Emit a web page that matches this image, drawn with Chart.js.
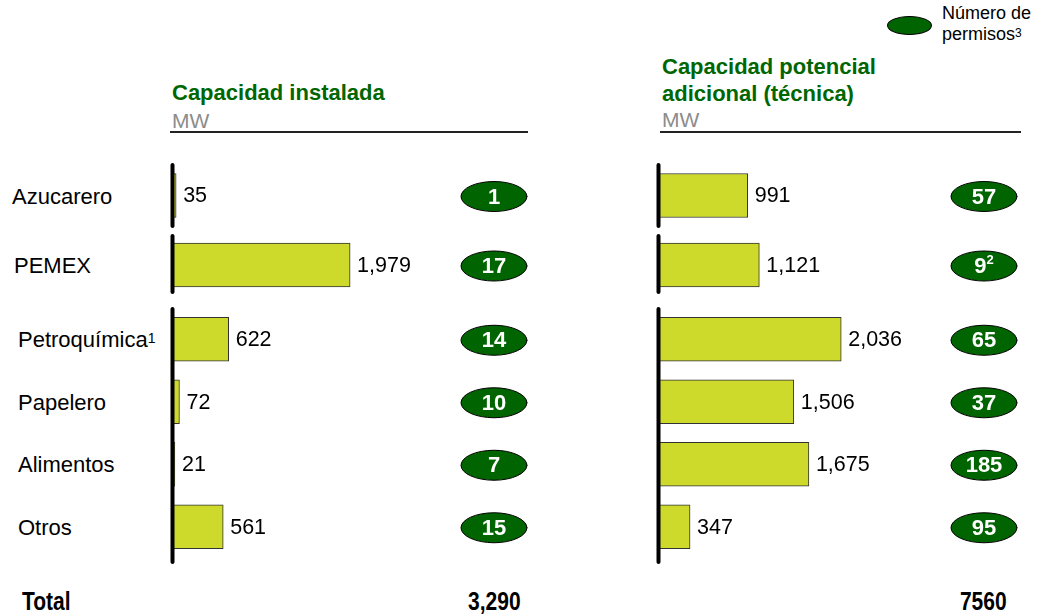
<!DOCTYPE html>
<html>
<head>
<meta charset="utf-8">
<script src="https://cdn.jsdelivr.net/npm/chart.js@4.4.0/dist/chart.umd.min.js"></script>
<style>
  body{margin:0;width:1038px;height:614px;position:relative;overflow:hidden;background:#fff;
       font-family:"Liberation Sans",Arial,Helvetica,sans-serif;color:#000}
  .abs{position:absolute;white-space:nowrap}
  .head{font-weight:bold;font-size:22px;line-height:26px;color:#006600}
  .unit{font-size:21px;line-height:24px;color:#8c8c8c}
  .rule{height:2px;background:#222}
  .cat{font-size:22px;line-height:26px}
  .cat sup{font-size:14px;vertical-align:top;position:relative;top:-2px}
  .tot{font-weight:bold;font-size:25px;line-height:28px;transform:scaleX(0.84)}
  .leg{font-size:18px;line-height:21px}
  .leg sup{font-size:12px;vertical-align:top;position:relative;top:-1px}
  .dot{box-sizing:border-box;border:1px solid #000;border-radius:50%;background:#006400}
</style>
</head>
<body>
<div class="abs head" style="left:172px;top:80px">Capacidad instalada</div>
<div class="abs unit" style="left:172px;top:109px">MW</div>
<div class="abs rule" style="left:170px;top:131px;width:358px"></div>

<div class="abs head" style="left:662px;top:53px;line-height:27px">Capacidad potencial<br>adicional (técnica)</div>
<div class="abs unit" style="left:662px;top:108px">MW</div>
<div class="abs rule" style="left:660px;top:131px;width:361px"></div>

<div class="abs dot" style="left:887px;top:16px;width:45px;height:19px"></div>
<div class="abs leg" style="left:942px;top:3px">Número de<br>permisos<sup>3</sup></div>

<div class="abs tot" style="left:22px;top:587px;transform-origin:left center">Total</div>
<div class="abs tot" id="tot0" style="right:517px;top:587px;transform-origin:right center"></div>
<div class="abs tot" id="tot1" style="right:31px;top:587px;transform-origin:right center"></div>

<script>
// data
const categories = ['Azucarero', 'PEMEX', 'Petroquímica', 'Papelero', 'Alimentos', 'Otros'];
const categoryNotes = ['', '', '1', '', '', ''];
const installedMW = [35, 1979, 622, 72, 21, 561];
const potentialMW = [991, 1121, 2036, 1506, 1675, 347];
const installedPermits = [1, 17, 14, 10, 7, 15];
const potentialPermits = [57, 9, 65, 37, 185, 95];
const potentialPermitNotes = ['', '2', '', '', '', ''];
const totalLabels = ['3,290', '7560'];
// rows sharing one axis segment
const rowGroups = [[0], [1], [2, 3, 4, 5]];

const PX_PER_MW = 0.0895;
const BAR_FILL = '#cdda2c';
const DARK_GREEN = '#006400';

// layout of each group block (pixels)
const groupBoxes = [
  {top: 163, h: 65, pt: 0, pb: 0, labelX: 12},
  {top: 234, h: 60, pt: 2, pb: 0, labelX: 14},
  {top: 307, h: 257, pt: 1, pb: 6, labelX: 18}
];
const panels = [
  {values: installedMW, permits: installedPermits, notes: null, left: 160, width: 372, ellipseX: 334},
  {values: potentialMW, permits: potentialPermits, notes: potentialPermitNotes, left: 646, width: 384, ellipseX: 338}
];

const rowDecor = {
  id: 'rowDecor',
  afterDatasetsDraw(chart, args, opts){
    const ctx = chart.ctx;
    const area = chart.chartArea;
    const meta = chart.getDatasetMeta(0);
    const ds = chart.data.datasets[0].data;
    ctx.save();
    // axis segment
    ctx.strokeStyle = '#000';
    ctx.lineWidth = 4;
    ctx.lineCap = 'round';
    ctx.beginPath();
    ctx.moveTo(area.left - 0.5, 2);
    ctx.lineTo(area.left - 0.5, chart.height - 2);
    ctx.stroke();

    meta.data.forEach((bar, k) => {
      // value label
      ctx.font = '21.5px "Liberation Sans", Arial, sans-serif';
      ctx.fillStyle = '#000';
      ctx.textAlign = 'left';
      ctx.textBaseline = 'middle';
      ctx.fillText(ds[k].toLocaleString('en-US'), Math.max(bar.x, area.left + 2) + 7, bar.y + 1);

      // permits ellipse
      const cx = opts.ellipseX, cy = bar.y + 1;
      ctx.beginPath();
      ctx.ellipse(cx, cy, 33, 15, 0, 0, Math.PI * 2);
      ctx.fillStyle = DARK_GREEN;
      ctx.fill();
      ctx.lineWidth = 1;
      ctx.strokeStyle = '#000';
      ctx.stroke();

      const main = String(opts.permits[k]);
      const note = opts.notes ? opts.notes[k] : '';
      ctx.font = 'bold 22px "Liberation Sans", Arial, sans-serif';
      const w1 = ctx.measureText(main).width;
      ctx.font = 'bold 13px "Liberation Sans", Arial, sans-serif';
      const w2 = note ? ctx.measureText(note).width : 0;
      const x0 = cx - (w1 + w2) / 2;
      ctx.fillStyle = '#fff';
      ctx.font = 'bold 22px "Liberation Sans", Arial, sans-serif';
      ctx.fillText(main, x0, cy + 1);
      if(note){
        ctx.font = 'bold 13px "Liberation Sans", Arial, sans-serif';
        ctx.fillText(note, x0 + w1, cy - 6);
      }
    });
    ctx.restore();
  }
};

function makeChart(panel, rows, box, withLabels){
  const wrap = document.createElement('div');
  wrap.className = 'abs';
  wrap.style.cssText = `left:${panel.left}px;top:${box.top}px;width:${panel.width}px;height:${box.h}px`;
  const cv = document.createElement('canvas');
  cv.width = panel.width; cv.height = box.h;
  cv.style.width = panel.width + 'px'; cv.style.height = box.h + 'px';
  wrap.appendChild(cv);
  document.body.appendChild(wrap);

  const padLeft = 13;
  const chart = new Chart(cv, {
    type: 'bar',
    data: {
      labels: rows.map(i => categories[i]),
      datasets: [{
        data: rows.map(i => panel.values[i]),
        backgroundColor: BAR_FILL,
        borderColor: '#333',
        borderWidth: 1,
        borderSkipped: 'start',
        barThickness: 44
      }]
    },
    options: {
      indexAxis: 'y',
      responsive: false,
      animation: false,
      layout: {padding: {left: padLeft, right: 0, top: box.pt, bottom: box.pb}},
      scales: {
        x: {display: false, min: 0, max: (panel.width - padLeft) / PX_PER_MW},
        y: {display: false}
      },
      plugins: {
        legend: {display: false},
        tooltip: {enabled: false},
        rowDecor: {
          ellipseX: panel.ellipseX,
          permits: rows.map(i => panel.permits[i]),
          notes: panel.notes ? rows.map(i => panel.notes[i]) : null
        }
      }
    },
    plugins: [rowDecor]
  });

  if(withLabels){
    const meta = chart.getDatasetMeta(0);
    rows.forEach((i, k) => {
      const d = document.createElement('div');
      d.className = 'abs cat';
      d.style.left = box.labelX + 'px';
      d.style.top = Math.round(box.top + meta.data[k].y - 12) + 'px';
      d.innerHTML = categories[i] + (categoryNotes[i] ? '<sup>' + categoryNotes[i] + '</sup>' : '');
      document.body.appendChild(d);
    });
  }
  return chart;
}

panels.forEach((p, pi) => {
  rowGroups.forEach((rows, gi) => makeChart(p, rows, groupBoxes[gi], pi === 0));
});
document.getElementById('tot0').textContent = totalLabels[0];
document.getElementById('tot1').textContent = totalLabels[1];
</script>
</body>
</html>
